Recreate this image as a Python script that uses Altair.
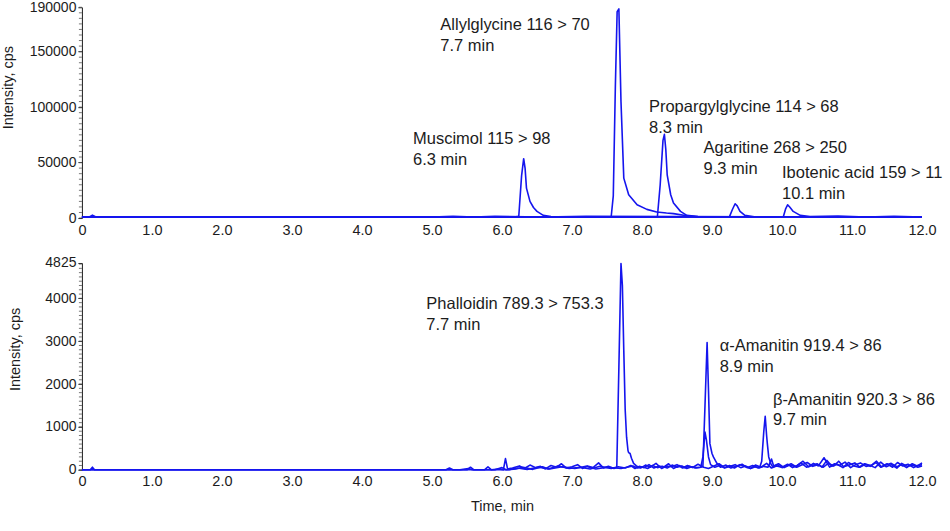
import altair as alt
import pandas as pd

BLUE = "#1515ee"
INK = "#1c1c1c"
FONT = "Liberation Sans"

X_TICKS = [0, 1, 2, 3, 4, 5, 6, 7, 8, 9, 10, 11, 12]

# ---- upper chromatogram: (retention time in min, intensity in cps) ----
MUSCIMOL = [(0.0, 700), (0.10, 800), (0.15, 2600), (0.20, 900), (0.30, 700), (5.0, 800),
            (6.0, 1000), (6.20, 1100), (6.24, 1600), (6.28, 38000), (6.31, 53500), (6.33, 45000),
            (6.35, 27000), (6.40, 15000), (6.45, 9500), (6.50, 6000), (6.59, 2400), (6.70, 1400),
            (7.00, 1000), (12.0, 900)]
ALLYLGLYCINE = [(0.0, 800), (7.0, 900), (7.56, 1200), (7.59, 20000), (7.62, 120000), (7.645, 186000),
                (7.67, 188500), (7.70, 104800), (7.74, 36000), (7.81, 21000), (7.93, 12000),
                (8.07, 7800), (8.21, 5400), (8.35, 4500), (8.45, 4000), (8.64, 2000), (8.80, 1200),
                (12.0, 1000)]
PROPARGYLGLYCINE = [(0.0, 900), (8.0, 1000), (8.22, 1200), (8.26, 30000), (8.30, 70000), (8.32, 75400),
                    (8.34, 62000), (8.36, 39000), (8.41, 21000), (8.45, 13500), (8.55, 6000),
                    (8.64, 2400), (8.80, 1300), (12.0, 1000)]
AGARITINE = [(0.0, 800), (9.0, 1000), (9.25, 1300), (9.29, 7500), (9.33, 12900), (9.36, 11000),
             (9.40, 6000), (9.47, 2400), (9.60, 1200), (12.0, 900)]
IBOTENIC_ACID = [(0.0, 800), (5.0, 900), (5.3, 1500), (5.6, 800), (5.9, 1600), (6.6, 900), (7.2, 1500),
                 (9.9, 1000), (10.02, 1400), (10.05, 8000), (10.08, 12000), (10.11, 10000),
                 (10.16, 6000), (10.26, 2400), (10.40, 1300), (10.8, 1700), (11.2, 900),
                 (11.6, 1600), (12.0, 1000)]

# ---- lower chromatogram ----
PHALLOIDIN = [(0.0, 0), (0.12, 0), (0.15, 60), (0.18, 0), (5.20, 0), (5.25, 40), (5.30, 0), (5.50, 0),
              (5.55, 60), (5.60, 0), (5.75, 0), (5.80, 70), (5.85, 0), (5.95, 20), (6.02, 0), (6.05, 260),
              (6.08, 20), (6.15, 40), (6.25, 90), (6.32, 30), (6.40, 110), (6.48, 50), (6.55, 80),
              (6.62, 20), (6.70, 100), (6.78, 60), (6.85, 140), (6.92, 40), (7.00, 70), (7.08, 120),
              (7.15, 30), (7.22, 90), (7.30, 50), (7.38, 160), (7.45, 40), (7.52, 80), (7.60, 30),
              (7.64, 60), (7.67, 2400), (7.70, 4810), (7.72, 4300), (7.74, 2780), (7.76, 1400),
              (7.78, 760), (7.80, 450), (7.81, 400), (7.83, 380), (7.85, 270), (7.88, 150), (7.92, 90),
              (7.98, 40), (8.05, 110), (8.12, 60), (8.20, 150), (8.28, 30), (8.35, 90), (8.42, 70),
              (8.50, 120), (8.58, 40), (8.65, 100), (8.72, 50), (8.80, 130), (8.88, 60), (8.95, 30),
              (9.02, 80), (9.10, 140), (9.18, 50), (9.25, 100), (9.32, 40), (9.40, 120), (9.48, 70),
              (9.55, 30), (9.62, 110), (9.70, 60), (9.78, 150), (9.85, 40), (9.92, 90), (10.00, 60),
              (10.08, 130), (10.15, 50), (10.22, 100), (10.30, 200), (10.38, 70), (10.45, 150),
              (10.52, 90), (10.60, 280), (10.68, 60), (10.75, 140), (10.82, 100), (10.90, 180),
              (10.98, 50), (11.05, 120), (11.12, 160), (11.20, 80), (11.28, 110), (11.35, 200),
              (11.42, 70), (11.50, 140), (11.58, 60), (11.65, 170), (11.72, 90), (11.80, 130),
              (11.88, 50), (11.95, 110), (12.00, 160)]
ALPHA_AMANITIN = [(0.0, 0), (5.40, 0), (5.52, 30), (5.58, 0), (5.90, 0), (6.00, 50), (6.06, 0), (6.20, 20),
                  (6.30, 60), (6.44, 10), (6.58, 70), (6.66, 20), (6.80, 90), (6.96, 30), (7.12, 60),
                  (7.26, 20), (7.40, 80), (7.56, 30), (7.66, 70), (7.76, 40), (7.84, 100), (7.90, 30),
                  (7.96, 80), (8.03, 50), (8.10, 120), (8.17, 40), (8.24, 90), (8.31, 60), (8.38, 140),
                  (8.45, 30), (8.53, 100), (8.60, 50), (8.68, 80), (8.76, 40), (8.84, 60), (8.87, 80),
                  (8.90, 1500), (8.93, 2970), (8.95, 1850), (8.97, 610), (9.00, 380), (9.02, 300),
                  (9.07, 150), (9.12, 60), (9.20, 110), (9.27, 40), (9.35, 90), (9.43, 130), (9.50, 50),
                  (9.58, 100), (9.66, 40), (9.74, 80), (9.80, 60), (9.85, 250), (9.88, 90), (9.95, 140),
                  (10.03, 50), (10.11, 110), (10.19, 70), (10.27, 160), (10.35, 60), (10.43, 100),
                  (10.50, 140), (10.57, 60), (10.64, 220), (10.71, 80), (10.79, 130), (10.87, 50),
                  (10.95, 170), (11.03, 90), (11.10, 60), (11.18, 140), (11.26, 100), (11.33, 50),
                  (11.41, 180), (11.49, 70), (11.56, 120), (11.64, 40), (11.71, 150), (11.79, 80),
                  (11.86, 110), (11.94, 60), (12.00, 90)]
BETA_AMANITIN = [(0.0, 0), (6.10, 0), (6.22, 40), (6.36, 10), (6.52, 60), (6.68, 20), (6.86, 70),
                 (7.04, 30), (7.20, 80), (7.34, 20), (7.50, 60), (7.70, 30), (7.87, 90), (7.94, 40),
                 (8.01, 70), (8.08, 30), (8.15, 100), (8.22, 50), (8.29, 80), (8.36, 40), (8.43, 110),
                 (8.50, 60), (8.57, 90), (8.64, 30), (8.71, 70), (8.78, 50), (8.84, 60), (8.87, 300),
                 (8.90, 880), (8.92, 700), (8.95, 300), (8.98, 120), (9.04, 60), (9.11, 100), (9.18, 40),
                 (9.26, 80), (9.33, 120), (9.41, 50), (9.48, 90), (9.55, 30), (9.62, 70), (9.68, 50),
                 (9.71, 200), (9.74, 900), (9.76, 1250), (9.78, 800), (9.79, 615), (9.81, 300),
                 (9.84, 140), (9.87, 60), (9.93, 120), (10.00, 50), (10.06, 90), (10.13, 140),
                 (10.21, 60), (10.28, 110), (10.36, 170), (10.44, 80), (10.51, 120), (10.59, 60),
                 (10.66, 150), (10.74, 90), (10.81, 200), (10.88, 70), (10.96, 110), (11.04, 160),
                 (11.11, 60), (11.19, 130), (11.26, 80), (11.34, 170), (11.41, 60), (11.49, 110),
                 (11.56, 150), (11.64, 70), (11.71, 120), (11.78, 50), (11.86, 140), (11.93, 90),
                 (12.00, 120)]

# peak labels: (first line, second line, time of text start, intensity of first baseline)
TOP_NOTES = [
    ("Allylglycine 116 > 70", "7.7 min", 5.12, 169400),
    ("Muscimol 115 > 98", "6.3 min", 4.73, 67000),
    ("Propargylglycine 114 > 68", "8.3 min", 8.10, 95800),
    ("Agaritine 268 > 250", "9.3 min", 8.88, 58300),
]
EDGE_NOTE = [("Ibotenic acid 159 > 113", "10.1 min", 10.0, 35900)]
BOTTOM_NOTES = [
    ("Phalloidin 789.3 > 753.3", "7.7 min", 4.92, 3755),
    ("\u03b1-Amanitin 919.4 > 86", "8.9 min", 9.11, 2778),
    ("\u03b2-Amanitin 920.3 > 86", "9.7 min", 9.87, 1523),
]

TOP_MAX = 190000
TOP_TICKS = [0, 50000, 100000, 150000, 190000]
TOP_MINOR = list(range(0, 190001, 5000))
BOTTOM_MAX = 4825
BOTTOM_TICKS = [0, 1000, 2000, 3000, 4000, 4825]
BOTTOM_MINOR = list(range(0, 4801, 100))


def traces_frame(traces):
    rows = []
    for name, pts in traces.items():
        for t, v in pts:
            rows.append({"trace": name, "t": t, "v": v})
    return pd.DataFrame(rows)


def notes_frame(notes):
    return pd.DataFrame([{"label": f"{a}\n{b}", "t": t, "v": v} for a, b, t, v in notes])


def panel(traces, notes, y_max, y_ticks, minor, height, title_x, title_y, x_title, edge_notes=None):
    xs = alt.Scale(domain=[0, 12], nice=False, zero=False)
    ys = alt.Scale(domain=[0, y_max], nice=False)
    x_axis = alt.Axis(
        values=X_TICKS,
        labelExpr="datum.value == 0 ? '0' : format(datum.value, '.1f')",
        domain=False, ticks=False, tickSize=0, grid=False, labelPadding=5, labelFlush=False,
        labelFontSize=14.5, title=x_title, titlePadding=11,
    )
    y_axis = alt.Axis(
        values=y_ticks, format="d", grid=False, tickSize=4, labelPadding=2, labelFlush=False,
        domainColor=INK, tickColor=INK, title="Intensity, cps",
        titleX=title_x, titleY=title_y, titleBaseline="middle",
    )
    # every layer carries the same axis definition so the merged axes stay visible
    X = alt.X("t:Q", scale=xs, axis=x_axis)
    Y = alt.Y("v:Q", scale=ys, axis=y_axis)

    lines = alt.Chart(traces_frame(traces)).mark_line(
        color=BLUE, strokeWidth=1.6, strokeJoin="round"
    ).encode(x=X, y=Y, detail="trace:N")

    minor_ticks = alt.Chart(pd.DataFrame({"v": minor})).mark_rule(
        color="#555555", strokeWidth=0.8
    ).encode(y=Y, x=alt.value(-3), x2=alt.value(0))

    def text_layer(df, **extra):
        return alt.Chart(df).mark_text(
            align="left", baseline="alphabetic", lineBreak="\n", lineHeight=21,
            font=FONT, fontSize=16.5, color=INK, **extra
        ).encode(x=X, y=Y, text="label:N")

    layers = [lines, minor_ticks, text_layer(notes_frame(notes))]
    if edge_notes:
        layers.append(text_layer(notes_frame(edge_notes), limit=169, ellipsis=" "))
    return alt.layer(*layers).properties(width=841, height=height)


top = panel(
    {"Muscimol": MUSCIMOL, "Allylglycine": ALLYLGLYCINE, "Propargylglycine": PROPARGYLGLYCINE,
     "Agaritine": AGARITINE, "Ibotenic acid": IBOTENIC_ACID},
    TOP_NOTES, TOP_MAX, TOP_TICKS, TOP_MINOR, 211, -73, 80, None, edge_notes=EDGE_NOTE,
)
bottom = panel(
    {"Phalloidin": PHALLOIDIN, "alpha-Amanitin": ALPHA_AMANITIN, "beta-Amanitin": BETA_AMANITIN},
    BOTTOM_NOTES, BOTTOM_MAX, BOTTOM_TICKS, BOTTOM_MINOR, 207, -66.5, 86, "Time, min",
)

chart = alt.vconcat(top, bottom, spacing=45, bounds="flush").configure_view(
    stroke=None
).configure_axis(
    labelFont=FONT, labelFontSize=14, labelColor=INK,
    titleFont=FONT, titleFontSize=14.5, titleFontWeight="normal", titleColor=INK,
).properties(
    background="white",
    padding={"top": 0, "left": 1, "right": 2, "bottom": 5},
)

chart.save("out.html", embed_options={"renderer": "svg", "actions": False})
